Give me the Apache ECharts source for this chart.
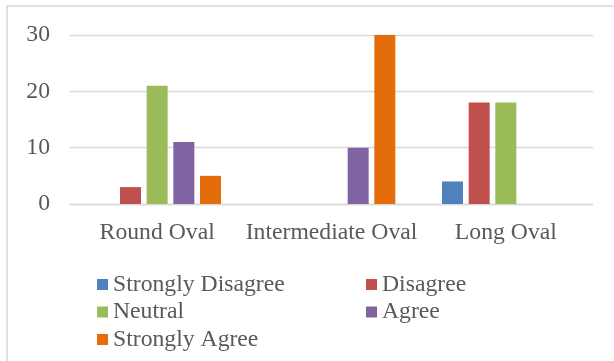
<!DOCTYPE html>
<html>
<head>
<meta charset="utf-8">
<script src="https://cdn.jsdelivr.net/npm/echarts@6/dist/echarts.min.js"></script>
<style>
  html, body { margin: 0; padding: 0; background: #ffffff; }
  #chart { width: 614px; height: 361px; }
</style>
</head>
<body>
<div id="chart"></div>
<script>
// Shape categories and response counts
var categories = ['Round Oval', 'Intermediate Oval', 'Long Oval'];
var stronglyDisagree = [0, 0, 4];
var disagree = [3, 0, 18];
var neutral = [21, 0, 18];
var agree = [11, 10, 0];
var stronglyAgree = [5, 30, 0];
var yTicks = [0, 10, 20, 30];

var seriesNames = ['Strongly Disagree', 'Disagree', 'Neutral', 'Agree', 'Strongly Agree'];
var seriesData = [stronglyDisagree, disagree, neutral, agree, stronglyAgree];
var colors = ['#4F81BD', '#C0504D', '#9BBB59', '#8064A2', '#E46C0A'];

var FONT = '"Liberation Serif", "Times New Roman", serif';
var TEXT = '#595959';
var LINE = '#d9d9d9';

var chart = echarts.init(document.getElementById('chart'), null, { renderer: 'canvas' });

var legendText = { fontFamily: FONT, fontSize: 23.7, color: TEXT, lineHeight: 24 };

chart.setOption({
  animation: false,
  backgroundColor: '#ffffff',
  color: colors,
  graphic: [{
    type: 'rect',
    silent: true,
    shape: { x: 7, y: 6, width: 700, height: 400 },
    style: { fill: null, stroke: LINE, lineWidth: 1.5 }
  }],
  grid: { left: 70, right: 21, top: 35, bottom: 157, containLabel: false },
  legend: [{
    orient: 'vertical',
    left: 97, top: 272.5, height: 90,
    padding: 0,
    itemWidth: 11, itemHeight: 11, itemGap: 3.5,
    icon: 'rect',
    data: ['Strongly Disagree', 'Neutral', 'Strongly Agree'],
    textStyle: legendText
  }, {
    orient: 'vertical',
    left: 366, top: 272.5, height: 90,
    padding: 0,
    itemWidth: 11, itemHeight: 11, itemGap: 3.5,
    icon: 'rect',
    data: ['Disagree', 'Agree'],
    textStyle: legendText
  }],
  xAxis: {
    type: 'category',
    data: categories,
    axisLine: { show: true, lineStyle: { color: LINE, width: 1.3 } },
    axisTick: { show: false },
    axisLabel: { fontFamily: FONT, fontSize: 23.7, color: TEXT, margin: 17, interval: 0 }
  },
  yAxis: {
    type: 'value',
    min: yTicks[0], max: yTicks[yTicks.length - 1], interval: 10,
    axisLine: { show: false },
    axisTick: { show: false },
    splitLine: { lineStyle: { color: LINE, width: 1.3 } },
    axisLabel: { fontFamily: FONT, fontSize: 23.7, color: TEXT, margin: 20 }
  },
  series: seriesNames.map(function (name, i) {
    return {
      name: name,
      type: 'bar',
      data: seriesData[i],
      barWidth: 21,
      barGap: '27%',
      itemStyle: { color: colors[i] }
    };
  })
});
</script>
</body>
</html>
